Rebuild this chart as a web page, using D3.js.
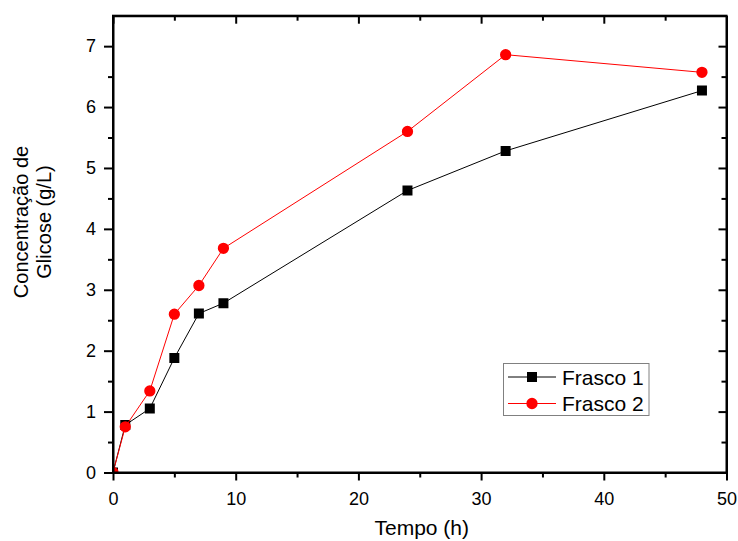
<!DOCTYPE html>
<html>
<head>
<meta charset="utf-8">
<script src="https://cdn.jsdelivr.net/npm/d3@7"></script>
<style>
  html, body { margin: 0; padding: 0; background: #fff; }
  svg text { font-family: Arial, "Liberation Sans", sans-serif; fill: #000; }
</style>
</head>
<body>
<svg id="chart" width="738" height="541"></svg>
<script>
// Glucose concentration over time for two flasks
const tempo = [0, 1, 3, 5, 7, 9, 24, 32, 48];
const frasco1 = [0, 0.78, 1.05, 1.88, 2.61, 2.78, 4.63, 5.28, 6.27];
const frasco2 = [0, 0.75, 1.34, 2.60, 3.07, 3.68, 5.60, 6.86, 6.57];
const seriesNames = ["Frasco 1", "Frasco 2"];
const xTicks = [0, 10, 20, 30, 40, 50];
const yTicks = [0, 1, 2, 3, 4, 5, 6, 7];

(function () {
const svg = d3.select("#chart");
const pLeft = 113, pRight = 726.5, pTop = 15.7, pBottom = 472.5;

const x = d3.scaleLinear().domain([0, 50]).range([pLeft, pRight]);
const y = d3.scaleLinear().domain([0, 7.5]).range([pBottom, pTop]);

const xMinor = d3.range(5, 50, 10);
const yMinor = d3.range(0.5, 7.5, 1);

// clip marks to the plot frame
svg.append("defs").append("clipPath").attr("id", "plotClip")
  .append("rect").attr("x", pLeft).attr("y", pTop)
  .attr("width", pRight - pLeft).attr("height", pBottom - pTop);

const series = [
  { name: seriesNames[0], values: frasco1, color: "#000000", symbol: d3.symbolSquare, size: 100 },
  { name: seriesNames[1], values: frasco2, color: "#ff0000", symbol: d3.symbolCircle, size: 100 }
];

const line = d3.line().x(d => x(d[0])).y(d => y(d[1]));
const plot = svg.append("g").attr("clip-path", "url(#plotClip)");

series.forEach(s => {
  const pts = tempo.map((t, i) => [t, s.values[i]]);
  plot.append("path").datum(pts)
    .attr("d", line).attr("fill", "none")
    .attr("stroke", s.color).attr("stroke-width", 1);
  plot.selectAll(null).data(pts).enter().append("path")
    .attr("transform", d => `translate(${x(d[0])},${y(d[1])})`)
    .attr("d", d3.symbol().type(s.symbol).size(s.size))
    .attr("fill", s.color);
});

// axes
function styleAxis(g) {
  g.selectAll(".domain").attr("stroke", "#000").attr("stroke-width", 2);
  g.selectAll(".tick line").attr("stroke", "#000").attr("stroke-width", 2);
}

// bottom
const gb = svg.append("g").attr("transform", `translate(0,${pBottom})`)
  .call(d3.axisBottom(x).tickValues(xTicks).tickSize(8).tickSizeOuter(0).tickPadding(12).tickFormat(d3.format("d")));
gb.selectAll("text").attr("font-size", 18);
styleAxis(gb);
svg.append("g").attr("transform", `translate(0,${pBottom})`)
  .call(d3.axisBottom(x).tickValues(xMinor).tickSize(5).tickSizeOuter(0).tickFormat(""))
  .call(g => g.select(".domain").remove()).call(styleAxis);

// top (inward ticks)
svg.append("g").attr("transform", `translate(0,${pTop})`)
  .call(d3.axisBottom(x).tickValues(xTicks).tickSize(8).tickSizeOuter(0).tickFormat(""))
  .call(styleAxis);
svg.append("g").attr("transform", `translate(0,${pTop})`)
  .call(d3.axisBottom(x).tickValues(xMinor).tickSize(5).tickSizeOuter(0).tickFormat(""))
  .call(g => g.select(".domain").remove()).call(styleAxis);

// left
const gl = svg.append("g").attr("transform", `translate(${pLeft},0)`)
  .call(d3.axisLeft(y).tickValues(yTicks).tickSize(9).tickSizeOuter(0).tickPadding(8).tickFormat(d3.format("d")));
gl.selectAll("text").attr("font-size", 18);
styleAxis(gl);
svg.append("g").attr("transform", `translate(${pLeft},0)`)
  .call(d3.axisLeft(y).tickValues(yMinor).tickSize(5).tickSizeOuter(0).tickFormat(""))
  .call(g => g.select(".domain").remove()).call(styleAxis);

// right (inward ticks)
svg.append("g").attr("transform", `translate(${pRight},0)`)
  .call(d3.axisLeft(y).tickValues(yTicks).tickSize(8).tickSizeOuter(0).tickFormat(""))
  .call(styleAxis);
svg.append("g").attr("transform", `translate(${pRight},0)`)
  .call(d3.axisLeft(y).tickValues(yMinor).tickSize(5).tickSizeOuter(0).tickFormat(""))
  .call(g => g.select(".domain").remove()).call(styleAxis);

// square the frame corners
svg.append("rect").attr("x", pLeft).attr("y", pTop)
  .attr("width", pRight - pLeft).attr("height", pBottom - pTop)
  .attr("fill", "none").attr("stroke", "#000").attr("stroke-width", 2);

// axis titles
svg.append("text").attr("x", (pLeft + pRight) / 2 + 2).attr("y", 535)
  .attr("text-anchor", "middle").attr("font-size", 21).text("Tempo (h)");
const yt = svg.append("text").attr("transform", "translate(0,222) rotate(-90)")
  .attr("text-anchor", "middle").attr("font-size", 20);
yt.append("tspan").attr("x", 0).attr("y", 28).text("Concentração de");
yt.append("tspan").attr("x", 0).attr("y", 51).text("Glicose (g/L)");

// legend
const lg = svg.append("g");
lg.append("rect").attr("x", 503.5).attr("y", 363.5).attr("width", 145.5).attr("height", 52)
  .attr("fill", "#fff").attr("stroke", "#808080").attr("stroke-width", 1);
series.forEach((s, i) => {
  const ly = 377 + i * 26.5;
  lg.append("line").attr("x1", 508).attr("x2", 556).attr("y1", ly).attr("y2", ly)
    .attr("stroke", s.color).attr("stroke-width", 1);
  lg.append("path").attr("transform", `translate(532,${ly})`)
    .attr("d", d3.symbol().type(s.symbol).size(s.size)).attr("fill", s.color);
  lg.append("text").attr("x", 562).attr("y", ly + 7.5).attr("font-size", 21).text(s.name);
});
})();
</script>
</body>
</html>
